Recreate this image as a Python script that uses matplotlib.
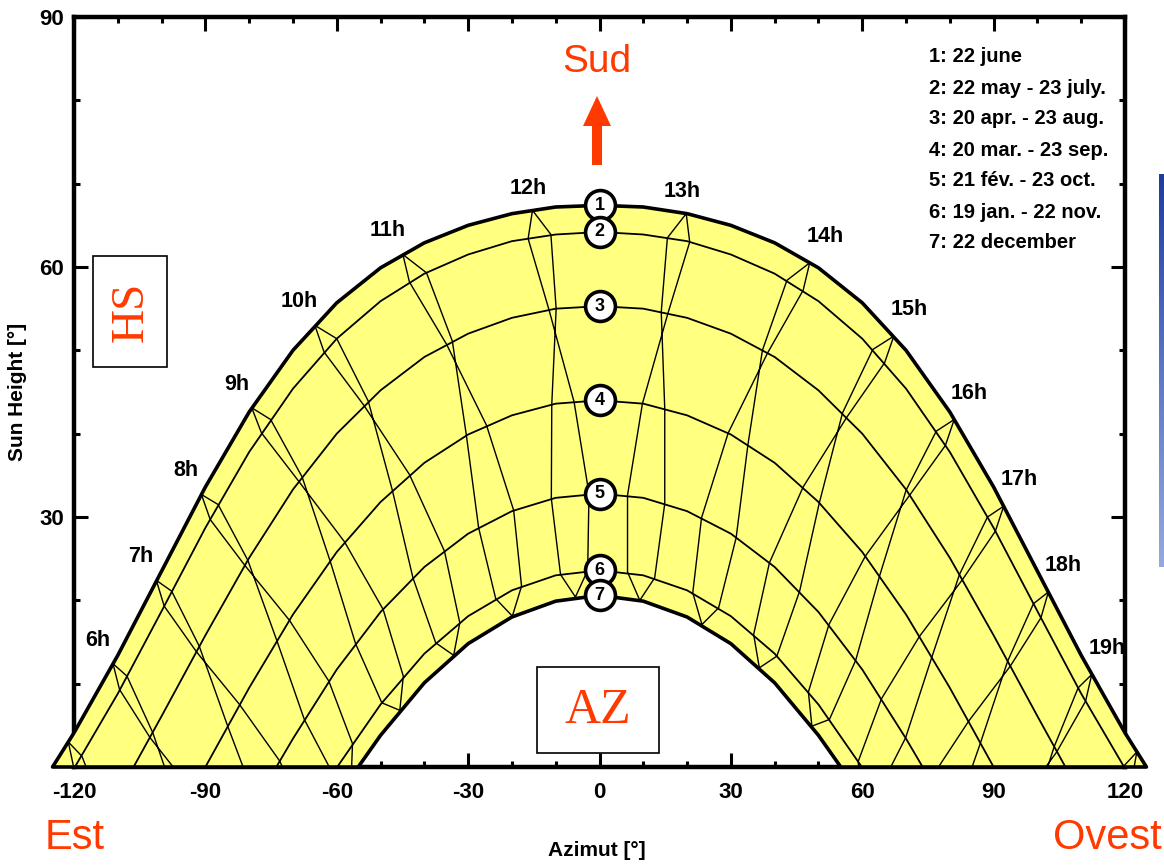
import numpy as np
import matplotlib
matplotlib.use("Agg")
import matplotlib.pyplot as plt
from matplotlib.patches import Polygon, Rectangle
from matplotlib.colors import LinearSegmentedColormap

nan = np.nan

# ---- daily sun paths: azimuth [deg] and sun height [deg] -------------------
DAY_NUMBERS = ["1", "2", "3", "4", "5", "6", "7"]
DAY_LEGEND = [
    "1: 22 june",
    "2: 22 may - 23 july.",
    "3: 20 apr. - 23 aug.",
    "4: 20 mar. - 23 sep.",
    "5: 21 fév. - 23 oct.",
    "6: 19 jan. - 22 nov.",
    "7: 22 december",
]

AZ_1 = [-124.9, -120, -110, -100, -90, -80, -70, -60, -50, -40, -30, -20, -10, 0,
        10, 20, 30, 40, 50, 60, 70, 80, 90, 100, 110, 120, 124.9]
ALT_1 = [0.0, 4.1, 13.4, 23.5, 33.6, 42.6, 50.0, 55.7, 59.9, 62.9, 65.0, 66.4, 67.2, 67.4,
         67.2, 66.4, 65.0, 62.9, 59.9, 55.7, 50.0, 42.6, 33.6, 23.5, 13.4, 4.1, 0.0]

AZ_2 = [-119.8, -110, -100, -90, -80, -70, -60, -50, -40, -30, -20, -10, 0,
        10, 20, 30, 40, 50, 60, 70, 80, 90, 100, 110, 119.8]
ALT_2 = [0.0, 8.8, 18.7, 28.7, 37.8, 45.4, 51.4, 55.9, 59.2, 61.5, 63.1, 63.9, 64.2,
         63.9, 63.1, 61.5, 59.2, 55.9, 51.4, 45.4, 37.8, 28.7, 18.7, 8.8, 0.0]

AZ_3 = [-106.4, -100, -90, -80, -70, -60, -50, -40, -30, -20, -10, 0,
        10, 20, 30, 40, 50, 60, 70, 80, 90, 100, 106.4]
ALT_3 = [0.0, 6.1, 15.8, 25.1, 33.3, 40.0, 45.2, 49.2, 52.0, 53.9, 55.0, 55.3,
         55.0, 53.9, 52.0, 49.2, 45.2, 40.0, 33.3, 25.1, 15.8, 6.1, 0.0]

AZ_4 = [-90, -80, -70, -60, -50, -40, -30, -20, -10, 0, 10, 20, 30, 40, 50, 60, 70, 80, 90]
ALT_4 = [0.0, 9.5, 18.3, 25.8, 31.8, 36.5, 39.9, 42.2, 43.6, 44.0,
         43.6, 42.2, 39.9, 36.5, 31.8, 25.8, 18.3, 9.5, 0.0]

AZ_5 = [-73.8, -70, -60, -50, -40, -30, -20, -10, 0, 10, 20, 30, 40, 50, 60, 70, 73.8]
ALT_5 = [0.0, 3.4, 11.7, 18.6, 24.0, 28.0, 30.7, 32.3, 32.8, 32.3, 30.7, 28.0, 24.0, 18.6, 11.7, 3.4, 0.0]

AZ_6 = [-59.9, -50, -40, -30, -20, -10, 0, 10, 20, 30, 40, 50, 59.9]
ALT_6 = [0.0, 7.5, 13.6, 18.1, 21.2, 23.0, 23.6, 23.0, 21.2, 18.1, 13.6, 7.5, 0.0]

AZ_7 = [-55.1, -50, -40, -30, -20, -10, 0, 10, 20, 30, 40, 50, 55.1]
ALT_7 = [0.0, 3.8, 10.1, 14.8, 18.0, 19.9, 20.6, 19.9, 18.0, 14.8, 10.1, 3.8, 0.0]

# ---- hour lines (mean time): one point per date, in calendar order ---------
# 22 dec, 19 jan, 21 feb, 20 mar, 20 apr, 22 may, 22 jun, 23 jul, 23 aug, 23 sep, 23 oct, 22 nov
AZ_05H = [nan, nan, nan, -106.9, -112.9, -118.2, -121.3, -120.0, -113.5, -104.1, nan, nan]
ALT_05H = [nan, nan, nan, -15.7, -5.8, 1.3, 3.0, -0.2, -6.4, -13.2, nan, nan]
AZ_06H = [nan, nan, -88.9, -95.7, -102.0, -107.9, -111.1, -109.6, -102.6, -93.0, -83.7, nan]
ALT_06H = [nan, nan, -14.6, -5.5, 4.1, 10.9, 12.4, 9.3, 3.5, -2.9, -9.5, nan]
AZ_07H = [-67.0, -71.3, -78.3, -84.9, -91.4, -97.7, -101.2, -99.4, -92.0, -82.2, -73.0, -67.1]
ALT_07H = [-10.5, -10.4, -4.3, 4.9, 14.5, 21.1, 22.4, 19.3, 13.8, 7.5, 0.7, -6.4]
AZ_08H = [-56.7, -60.9, -67.4, -73.7, -80.3, -87.1, -90.9, -88.9, -81.0, -70.8, -61.8, -56.4]
ALT_08H = [-1.3, -0.8, 5.7, 15.2, 24.8, 31.5, 32.7, 29.7, 24.2, 17.6, 10.3, 2.8]
AZ_09H = [-45.6, -49.7, -55.7, -61.5, -67.9, -75.1, -79.4, -77.2, -68.7, -58.2, -49.4, -44.8]
ALT_09H = [6.8, 7.7, 14.8, 24.7, 34.8, 41.7, 43.1, 40.1, 34.3, 27.0, 18.9, 10.9]
AZ_10H = [-33.3, -37.4, -42.6, -47.3, -52.8, -60.0, -65.0, -62.9, -53.8, -43.4, -35.4, -31.9]
ALT_10H = [13.4, 14.9, 22.7, 33.2, 43.9, 51.4, 53.0, 49.8, 43.4, 35.1, 25.9, 17.3]
AZ_11H = [-19.9, -23.7, -27.6, -30.4, -33.6, -39.5, -44.9, -43.4, -34.9, -25.8, -19.6, -17.8]
ALT_11H = [18.1, 20.2, 28.7, 39.8, 51.1, 59.3, 61.5, 58.2, 50.7, 41.0, 30.8, 21.7]
AZ_12H = [-5.5, -8.9, -11.0, -10.9, -9.9, -11.1, -15.3, -16.3, -11.5, -5.8, -2.4, -2.7]
ALT_12H = [20.4, 23.1, 32.2, 43.5, 55.0, 63.9, 66.8, 63.4, 54.8, 43.8, 32.8, 23.6]
AZ_13H = [9.2, 6.4, 6.4, 9.8, 15.6, 20.6, 19.8, 15.5, 14.1, 14.9, 14.9, 12.6]
ALT_13H = [20.0, 23.4, 32.6, 43.6, 54.4, 63.0, 66.4, 63.5, 54.6, 43.0, 31.6, 22.7]
AZ_14H = [23.4, 21.3, 23.3, 29.4, 38.4, 46.5, 48.0, 42.8, 37.2, 33.9, 31.2, 27.2]
ALT_14H = [17.1, 20.9, 29.9, 40.1, 49.7, 57.2, 60.5, 58.4, 50.0, 38.7, 27.5, 19.1]
AZ_15H = [36.5, 35.2, 38.8, 46.5, 56.5, 65.1, 67.2, 62.4, 55.5, 50.2, 45.7, 40.5]
ALT_15H = [11.9, 15.9, 24.5, 33.6, 42.0, 48.5, 51.7, 50.1, 42.5, 31.7, 21.1, 13.3]
AZ_16H = [48.5, 47.7, 52.4, 60.7, 70.8, 79.0, 81.0, 76.9, 70.0, 64.0, 58.5, 52.5]
ALT_16H = [4.9, 9.0, 17.1, 25.3, 32.6, 38.6, 41.7, 40.3, 33.2, 23.0, 12.8, 5.7]
AZ_17H = [59.4, 59.1, 64.4, 73.1, 82.9, 90.4, 92.3, 88.6, 82.2, 75.9, 69.9, 63.5]
ALT_17H = [-3.5, 0.7, 8.2, 15.7, 22.5, 28.3, 31.3, 30.0, 23.1, 13.2, 3.5, -3.1]
AZ_18H = [69.5, 69.6, 75.4, 84.3, 93.8, 100.8, 102.5, 99.1, 93.2, 87.0, 80.7, 73.8]
ALT_18H = [-12.9, -8.7, -1.6, 5.5, 12.1, 17.9, 21.0, 19.6, 12.7, 2.9, -6.6, -12.8]
AZ_19H = [nan, nan, 86.1, 95.1, 104.4, 111.0, 112.4, 109.3, 103.8, 97.8, 91.4, nan]
ALT_19H = [nan, nan, -11.8, -4.9, 1.8, 7.9, 11.1, 9.5, 2.4, -7.5, -17.0, nan]
AZ_20H = [nan, nan, nan, 106.3, 115.4, 121.6, 122.7, 119.7, 114.7, 109.2, nan, nan]
ALT_20H = [nan, nan, nan, -15.2, -7.9, -1.4, 1.8, 0.1, -7.4, -17.6, nan, nan]

HOUR_TEXT = ["", "6h", "7h", "8h", "9h", "10h", "11h", "12h", "13h",
             "14h", "15h", "16h", "17h", "18h", "19h", ""]

X_TICKS = [-120, -90, -60, -30, 0, 30, 60, 90, 120]
Y_TICKS = [0, 30, 60, 90]
Y_TICK_TEXT = ["", "30", "60", "90"]

# ---- styling ---------------------------------------------------------------
plt.rcParams["axes.unicode_minus"] = False
BOLD = ["Liberation Sans", "DejaVu Sans"]
SERIF = ["Liberation Serif", "DejaVu Serif"]
SANS = ["Liberation Sans", "DejaVu Sans"]
RED = "#FF3A00"
BAND = "#FFFF80"

W, H = 1164, 866
fig = plt.figure(figsize=(W / 100, H / 100), dpi=100)
fig.patch.set_facecolor("white")


def fx(px):
    return px / W


def fy(py):
    return 1 - py / H


ax = fig.add_axes([fx(74), fy(767), fx(1125) - fx(74), fy(17) - fy(767)])
ax.set_xlim(-120, 120)
ax.set_ylim(0, 90)
ax.set_facecolor("white")

for sp in ax.spines.values():
    sp.set_linewidth(3.2)
    sp.set_color("black")

ax.set_xticks(X_TICKS)
ax.set_xticks(np.arange(-120, 121, 10), minor=True)
ax.set_xticklabels([str(v) for v in X_TICKS])
ax.set_yticks(Y_TICKS)
ax.set_yticks(np.arange(0, 91, 10), minor=True)
ax.set_yticklabels(Y_TICK_TEXT)
ax.tick_params(which="both", direction="in", top=True, right=True, width=2.2)
ax.tick_params(which="major", length=10)
ax.tick_params(which="minor", length=4.5)
ax.tick_params(axis="x", pad=11)
ax.tick_params(axis="y", pad=7)
for lbl in ax.get_xticklabels() + ax.get_yticklabels():
    lbl.set_fontfamily(BOLD)
    lbl.set_fontweight("bold")
    lbl.set_fontsize(16)

# ---- yellow band between the summer and winter solstice paths -------------
band_x = list(AZ_1) + list(AZ_7)[::-1]
band_y = list(ALT_1) + list(ALT_7)[::-1]
band_xy = np.column_stack([band_x, band_y])
band = Polygon(band_xy, closed=True, facecolor=BAND, edgecolor="none",
               zorder=3, clip_on=False)
ax.add_patch(band)

# inner day paths
day_curves = [(AZ_1, ALT_1), (AZ_2, ALT_2), (AZ_3, ALT_3), (AZ_4, ALT_4),
              (AZ_5, ALT_5), (AZ_6, ALT_6), (AZ_7, ALT_7)]
for az, alt in day_curves[1:-1]:
    ln, = ax.plot(az, alt, color="black", lw=1.3, zorder=4)
    ln.set_clip_path(band)
    ln.set_clip_box(None)

# hour lines (closed loops over the year)
hour_lines = [(AZ_05H, ALT_05H), (AZ_06H, ALT_06H), (AZ_07H, ALT_07H), (AZ_08H, ALT_08H),
              (AZ_09H, ALT_09H), (AZ_10H, ALT_10H), (AZ_11H, ALT_11H), (AZ_12H, ALT_12H),
              (AZ_13H, ALT_13H), (AZ_14H, ALT_14H), (AZ_15H, ALT_15H), (AZ_16H, ALT_16H),
              (AZ_17H, ALT_17H), (AZ_18H, ALT_18H), (AZ_19H, ALT_19H), (AZ_20H, ALT_20H)]
for az, alt in hour_lines:
    loop_x = list(az) + [az[0]]
    loop_y = list(alt) + [alt[0]]
    ln, = ax.plot(loop_x, loop_y, color="black", lw=1.0, zorder=4)
    ln.set_clip_path(band)
    ln.set_clip_box(None)

# thick outline of the band
outline = Polygon(band_xy, closed=True, fill=False, edgecolor="black",
                  lw=2.6, zorder=5, clip_on=False, joinstyle="round")
ax.add_patch(outline)

# hour labels next to the 22 June position of each hour
JUNE = 6
for (az, alt), txt in zip(hour_lines, HOUR_TEXT):
    if not txt:
        continue
    x0, y0 = az[JUNE], alt[JUNE]
    if x0 < -20:
        off = (-11, 17)
    elif x0 < 25:
        off = (-3, 16)
    else:
        off = (11, 19)
    ax.annotate(txt, (x0, y0), xytext=off, textcoords="offset points",
                ha="center", va="center", fontsize=15.5, fontweight="bold",
                fontfamily=BOLD, zorder=7, annotation_clip=False)

# numbered markers at solar noon on each path
for (az, alt), num in zip(day_curves, DAY_NUMBERS):
    i0 = list(az).index(0)
    ax.plot([az[i0]], [alt[i0]], marker="o", ms=21.5, mfc="white", mec="black",
            mew=2.6, zorder=8, clip_on=False)
    ax.text(az[i0], alt[i0], num, ha="center", va="center", fontsize=13,
            fontweight="bold", fontfamily=BOLD, zorder=9)

# ---- annotations --------------------------------------------------------------
fig.text(fx(18), fy(392), "Sun Height [°]", rotation=90, ha="center", va="center",
         fontsize=15, fontweight="bold", fontfamily=BOLD)
fig.text(fx(597), fy(851), "Azimut [°]", ha="center", va="center",
         fontsize=15, fontweight="bold", fontfamily=BOLD)

for k, line in enumerate(DAY_LEGEND):
    fig.text(fx(929), fy(57 + 31 * k), line, ha="left", va="center",
             fontsize=14.5, fontweight="bold", fontfamily=BOLD)

fig.text(fx(597), fy(62), "Sud", ha="center", va="center", color=RED,
         fontsize=28, fontfamily=SANS)
arrow_px = [(592, 165), (602, 165), (602, 126), (611, 126), (597, 96), (583, 126), (592, 126)]
fig.patches.append(Polygon([(fx(x), fy(y)) for x, y in arrow_px], closed=True,
                           transform=fig.transFigure, facecolor=RED, edgecolor="none"))

fig.text(fx(45), fy(838), "Est", ha="left", va="center", color=RED,
         fontsize=30, fontfamily=SANS)
fig.text(fx(1162), fy(838), "Ovest", ha="right", va="center", color=RED,
         fontsize=30, fontfamily=SANS)

# boxed captions
fig.patches.append(Rectangle((fx(93), fy(367)), fx(167) - fx(93), fy(256) - fy(367),
                             transform=fig.transFigure, facecolor="white",
                             edgecolor="black", lw=1.2, zorder=10))
fig.text(fx(131), fy(312), "HS", rotation=90, ha="center", va="center", color=RED,
         fontsize=34, fontfamily=SERIF, zorder=11)
fig.patches.append(Rectangle((fx(537), fy(753)), fx(659) - fx(537), fy(667) - fy(753),
                             transform=fig.transFigure, facecolor="white",
                             edgecolor="black", lw=1.2, zorder=10))
fig.text(fx(598), fy(711), "AZ", ha="center", va="center", color=RED,
         fontsize=36, fontfamily=SERIF, zorder=11)

# blue panel edge on the right
bax = fig.add_axes([fx(1159), fy(567), fx(12), fy(174) - fy(567)])
grad = np.linspace(0, 1, 256).reshape(-1, 1)
cmap = LinearSegmentedColormap.from_list("panel", ["#1d3d9d", "#5a78c4", "#93aadb"])
bax.imshow(grad, aspect="auto", cmap=cmap)
bax.axis("off")

fig.savefig("out.png", dpi=100)
